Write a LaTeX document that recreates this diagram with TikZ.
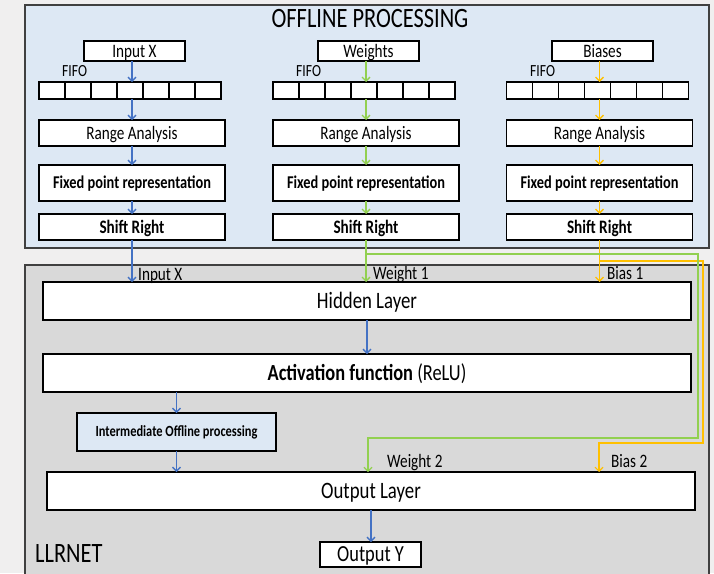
\documentclass[tikz,border=0pt]{standalone}
\usepackage{fontspec}
\setmainfont{Carlito}[FakeStretch=0.8]
\usetikzlibrary{arrows.meta}
\definecolor{pagebg}{RGB}{240,239,239}
\definecolor{offfill}{RGB}{221,232,244}
\definecolor{netfill}{RGB}{217,217,217}
\definecolor{frame}{RGB}{64,64,64}
\definecolor{ablue}{RGB}{68,114,196}
\definecolor{agreen}{RGB}{146,208,80}
\definecolor{agold}{RGB}{255,192,0}
\begin{document}
\begin{tikzpicture}[x=1pt,y=-1pt,
  container/.style={draw=frame, line width=1.2pt, inner sep=0pt, outer sep=0pt},
  bx/.style={draw=black, fill=white, line width=1.4pt, inner sep=0pt, outer sep=0pt, align=center},
  fifobox/.style={draw=black, fill=white, line width=1.8pt, inner sep=0pt, outer sep=0pt, minimum width=182, minimum height=17},
  fs/.style={font=\fontsize{#1}{#1}\selectfont, text height={0.632*#1pt}, text depth=0pt},
  fsb/.style={font=\fontsize{#1}{#1}\selectfont\bfseries, text height={0.632*#1pt}, text depth=0pt},
  lbl/.style={anchor=base west, inner sep=0pt},
  ar/.style={-{Straight Barb[length=4pt,width=8pt]}, line width=1.3pt},
  route/.style={-{Straight Barb[length=4pt,width=8pt]}, line width=1.1pt}
]
\clip (0,0) rectangle (714,573);
\fill[pagebg] (0,0) rectangle (714,573);

% containers
\node[container, fill=offfill, minimum width=684, minimum height=243] (off) at (367,126.5) {};
\node[container, fill=netfill, minimum width=684, minimum height=340] (net) at (367,435) {};
\node[fs=28] (title) at (370,19) {OFFLINE PROCESSING};

% offline columns
\foreach \i/\rx/\ix/\fx/\flx/\txt/\col in {1/132/134.5/130/62/Input X/ablue, 2/366/368.5/364/296/Weights/agreen, 3/599.5/602.5/597.5/530/Biases/agold}{
  \node[bx, fs=19, minimum width=101, minimum height=20] (in\i) at (\ix,51) {\txt};
  \node[fifobox] (ff\i) at (\fx,90.5) {};
  \foreach \k in {1,...,6}
    \draw[line width=1.8pt] ([xshift=\k*26pt]ff\i.north west) -- ([xshift=\k*26pt]ff\i.south west);
  \node[fs=17, lbl] (fl\i) at (\flx,76) {FIFO};
  \node[bx, fs=19, minimum width=186, minimum height=26] (ra\i) at (\rx,133) {Range Analysis};
  \node[bx, fsb=18, minimum width=186, minimum height=36] (fp\i) at (\rx,183) {Fixed point representation};
  \node[bx, fsb=19, minimum width=186, minimum height=26] (sr\i) at (\rx,227) {Shift Right};
  \draw[ar, color=\col] (in\i.south -| ra\i) -- (ff\i.north -| ra\i);
  \draw[ar, color=\col] (ff\i.south -| ra\i) -- (ra\i.north);
  \draw[ar, color=\col] (ra\i.south) -- (fp\i.north);
  \draw[ar, color=\col] (fp\i.south) -- (sr\i.north);
}

% LLRNET
\node[bx, fs=23.5, minimum width=648, minimum height=38] (hid) at (367,301) {Hidden Layer};
\node[bx, fs=23, minimum width=648, minimum height=38] (act) at (367,373) {\textbf{Activation function} (ReLU)};
\node[bx, fill=offfill, fsb=15.5, minimum width=199, minimum height=38] (imp) at (176.5,432) {Intermediate Offline processing};
\node[bx, fs=23.5, minimum width=648, minimum height=38] (outl) at (371,491) {Output Layer};
\node[bx, fs=23, minimum width=101, minimum height=25] (outy) at (370.5,554.5) {Output Y};
\node[fs=28, lbl] (llr) at (35,562) {LLRNET};

% connector labels
\node[fs=19, lbl] (lx) at (138,280) {Input X};
\node[fs=19, lbl] (lw1) at (373,279) {Weight 1};
\node[fs=19, lbl] (lb1) at (607,279) {Bias 1};
\node[fs=19, lbl] (lw2) at (387,467) {Weight 2};
\node[fs=19, lbl] (lb2) at (611,467) {Bias 2};

% connectors into the network
\draw[ar, ablue] (sr1.south) -- (sr1.south |- hid.north);
\draw[ar, agreen] (sr2.south) -- (sr2.south |- hid.north);
\draw[ar, agold] (sr3.south) -- (sr3.south |- hid.north);
\coordinate (gR) at (698,254);
\coordinate (gL) at (368,438);
\coordinate (oR) at (703,261);
\coordinate (oL) at (599,443);
\draw[route, agold] (sr3.south |- oR) -- (oR) |- (oL) -- (oL |- outl.north);
\draw[route, agreen] (sr2.south |- gR) -- (gR) |- (gL) -- (gL |- outl.north);
\draw[ar, ablue] (hid.south) -- (act.north);
\draw[ar, ablue] (imp.north |- act.south) -- (imp.north);
\draw[ar, ablue] (imp.south) -- (imp.south |- outl.north);
\draw[ar, ablue] (outl.south) -- (outl.south |- outy.north);
\end{tikzpicture}
\end{document}
